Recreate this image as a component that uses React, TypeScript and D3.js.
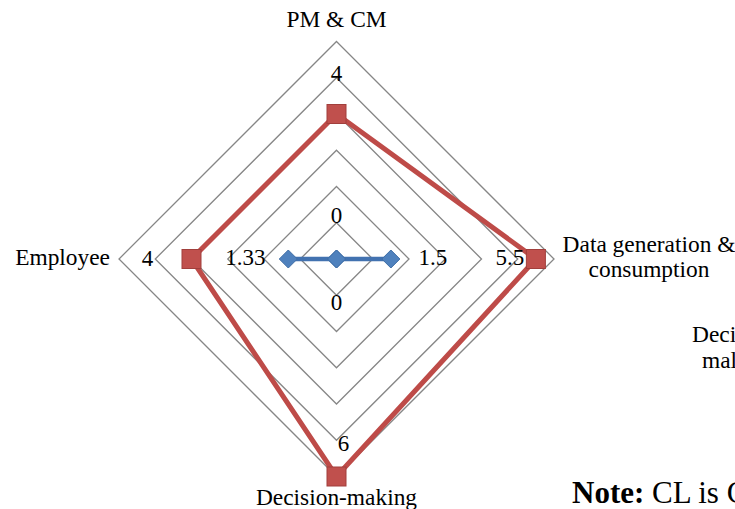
import React from "react";
import * as d3 from "d3";

const categories = ["PM & CM", "Data generation & consumption", "Decision-making", "Employee"];
const seriesCL = [0, 1.5, 0, 1.33];
const seriesRed = [4, 5.5, 6, 4];
const gridLevels = [1, 2, 3, 4, 5, 6];

const W = 735;
const H = 509;
const CX = 336.5;
const CY = 259;
const R = 217.5;
const FONT = "'Liberation Serif', 'Times New Roman', serif";

// label offsets (style): [dx, dy-of-baseline] per point
const redLabelOff = [
  [0, -33],
  [-26, 6],
  [7, -26],
  [-44, 7],
];
const blueLabelOff = [
  [0, -36],
  [42, 6],
  [0, 51],
  [-43, 6],
];

export default function App() {
  const r = d3.scaleLinear().domain([0, 6]).range([0, R]);
  const angle = d3
    .scaleLinear()
    .domain([0, categories.length])
    .range([0, 2 * Math.PI]);
  const pt = (i: number, v: number): [number, number] => {
    const a = angle(i);
    return [CX + r(v) * Math.sin(a), CY - r(v) * Math.cos(a)];
  };
  const line = d3.line<[number, number]>().curve(d3.curveLinearClosed);

  const gridPaths = gridLevels.map((lv) => line(categories.map((_, i) => pt(i, lv))) as string);
  const redPts = seriesRed.map((v, i) => pt(i, v));
  const bluePts = seriesCL.map((v, i) => pt(i, v));

  const fmt = (v: number) => String(v);

  return (
    <svg
      width={W}
      height={H}
      style={{ position: "absolute", left: 0, top: 0, background: "#fff" }}
      fontFamily={FONT}
    >
      <rect x={0} y={0} width={W} height={H} fill="#fff" />
      {gridPaths.map((d, i) => (
        <path key={i} d={d} fill="none" stroke="#868686" strokeWidth={1.3} />
      ))}
      {/* blue series */}
      <path d={line(bluePts) as string} fill="none" stroke="#4272B0" strokeWidth={4.5} strokeLinejoin="round" />
      {bluePts.map(([x, y], i) => (
        <path
          key={i}
          d={`M${x},${y - 9}L${x + 9},${y}L${x},${y + 9}L${x - 9},${y}Z`}
          fill="#4F81BD"
          stroke="#3F6EA6"
          strokeWidth={1}
        />
      ))}
      {/* red series */}
      <path d={line(redPts) as string} fill="none" stroke="#BE4B48" strokeWidth={5} strokeLinejoin="miter" />
      {redPts.map(([x, y], i) => (
        <rect key={i} x={x - 9.5} y={y - 9.5} width={19} height={19} fill="#C0504D" stroke="#A13F3C" strokeWidth={1} />
      ))}
      {/* data labels */}
      <g fontSize={23} fill="#000" textAnchor="middle">
        {redPts.map(([x, y], i) => (
          <text key={"r" + i} x={x + redLabelOff[i][0]} y={y + redLabelOff[i][1]}>
            {fmt(seriesRed[i])}
          </text>
        ))}
        {bluePts.map(([x, y], i) => (
          <text key={"b" + i} x={x + blueLabelOff[i][0]} y={y + blueLabelOff[i][1]}>
            {fmt(seriesCL[i])}
          </text>
        ))}
      </g>
      {/* category labels */}
      <g fontSize={23.4} fill="#000">
        <text x={CX} y={27} textAnchor="middle">{categories[0]}</text>
        <text x={649} y={252} textAnchor="middle">Data generation &amp;</text>
        <text x={649} y={277} textAnchor="middle">consumption</text>
        <text x={CX} y={505} textAnchor="middle">{categories[2]}</text>
        <text x={110} y={265} textAnchor="end">{categories[3]}</text>
      </g>
      {/* overflowing extra texts (clipped in the reference too) */}
      <g fontSize={23.4} fill="#000">
        <text x={692} y={342}>Deci</text>
        <text x={702} y={368}>mal</text>
      </g>
      <text x={572} y={503} fontSize={31} fill="#000">
        <tspan fontWeight="bold">Note:</tspan>
        <tspan> CL is C</tspan>
      </text>
    </svg>
  );
}
